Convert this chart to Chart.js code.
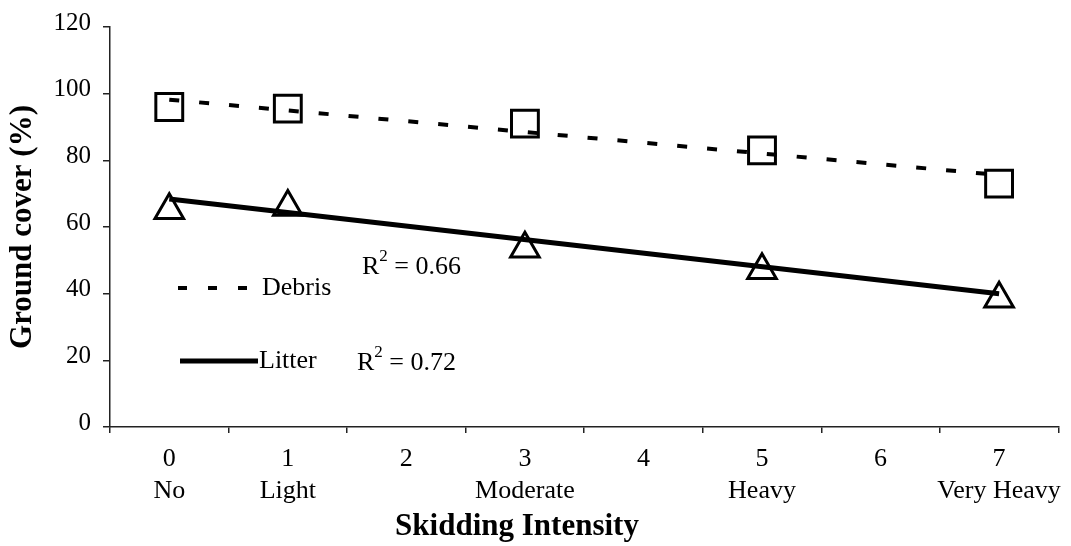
<!DOCTYPE html>
<html>
<head>
<meta charset="utf-8">
<title>Ground cover vs skidding intensity</title>
<script src="https://cdn.jsdelivr.net/npm/chart.js@4/dist/chart.umd.min.js"></script>
<style>
  html, body { margin: 0; padding: 0; background: #fff; }
  canvas { display: block; }
</style>
</head>
<body>
<canvas id="cobertura" width="1071" height="546"></canvas>
<script>
// Níveis de intensidade de arraste (eixo x)
const intensidades = ['0', '1', '2', '3', '4', '5', '6', '7'];
const nomesIntensidade = ['No', 'Light', '', 'Moderate', '', 'Heavy', '', 'Very Heavy'];

// Níveis amostrados e cobertura medida (%)
const niveisAmostrados = ['0', '1', '3', '5', '7'];
const debris = [96, 95.5, 91, 83, 73];
const litter = [65, 66, 53.5, 47, 38.5];

// Linhas de tendência (extremos em x = 0 e x = 7)
const extremosTendencia = ['0', '7'];
const tendenciaDebris = [98.2, 75.6];
const tendenciaLitter = [68.4, 40];

// Eixo y
const yMin = 0;
const yMax = 120;
const yPasso = 20;

const fonteSerif = "'Liberation Serif', 'Times New Roman', serif";

const pontos = (xs, ys) => xs.map((x, i) => ({ x: x, y: ys[i] }));

// Legenda, valores de R² e título do eixo x
const anotacoes = {
    id: 'anotacoes',
    afterDraw(chart) {
        const ctx = chart.ctx;
        ctx.save();
        ctx.fillStyle = '#000';
        ctx.strokeStyle = '#000';
        ctx.textBaseline = 'middle';
        ctx.font = '26px ' + fonteSerif;

        // Debris (tracejado)
        ctx.lineWidth = 4;
        ctx.setLineDash([9, 21]);
        ctx.beginPath();
        ctx.moveTo(178, 288);
        ctx.lineTo(250, 288);
        ctx.stroke();
        ctx.setLineDash([]);
        ctx.fillText('Debris', 262, 288);

        // Litter (contínuo)
        ctx.lineWidth = 5;
        ctx.beginPath();
        ctx.moveTo(180, 361);
        ctx.lineTo(258, 361);
        ctx.stroke();
        ctx.fillText('Litter', 259, 361);

        // R²
        const r2 = (x, y, valor) => {
            ctx.font = '26px ' + fonteSerif;
            ctx.fillText('R', x, y);
            const w = ctx.measureText('R').width;
            ctx.font = '17px ' + fonteSerif;
            ctx.fillText('2', x + w, y - 10);
            const w2 = ctx.measureText('2').width;
            ctx.font = '26px ' + fonteSerif;
            ctx.fillText(' = ' + valor, x + w + w2, y);
        };
        r2(362, 267, '0.66');
        r2(357, 363, '0.72');

        // Título do eixo x
        ctx.font = 'bold 31px ' + fonteSerif;
        ctx.textAlign = 'center';
        ctx.fillText('Skidding Intensity', 517, 527);
        ctx.restore();
    }
};

new Chart(document.getElementById('cobertura'), {
    type: 'line',
    data: {
        labels: intensidades,
        datasets: [
            {
                label: 'Debris',
                data: pontos(niveisAmostrados, debris),
                showLine: false,
                pointStyle: 'rect',
                pointRadius: 19,
                pointBorderWidth: 3,
                pointBorderColor: '#000',
                pointBackgroundColor: 'rgba(0,0,0,0)'
            },
            {
                label: 'Litter',
                data: pontos(niveisAmostrados, litter),
                showLine: false,
                pointStyle: 'triangle',
                pointRadius: 16.5,
                pointBorderWidth: 3,
                pointBorderColor: '#000',
                pointBackgroundColor: 'rgba(0,0,0,0)'
            },
            {
                label: 'Debris tendência',
                data: pontos(extremosTendencia, tendenciaDebris),
                borderColor: '#000',
                borderWidth: 4,
                borderDash: [10, 20],
                pointRadius: 0,
                fill: false
            },
            {
                label: 'Litter tendência',
                data: pontos(extremosTendencia, tendenciaLitter),
                borderColor: '#000',
                borderWidth: 5,
                pointRadius: 0,
                fill: false
            }
        ]
    },
    options: {
        responsive: false,
        animation: false,
        layout: {
            autoPadding: false,
            padding: { top: 24, right: 3, left: 0, bottom: 0 }
        },
        plugins: {
            legend: { display: false },
            tooltip: { enabled: false }
        },
        scales: {
            x: {
                type: 'category',
                offset: true,
                afterFit: (s) => { s.height = 119; },
                border: { color: '#222', width: 1.5 },
                grid: {
                    offset: true,
                    drawOnChartArea: false,
                    drawTicks: true,
                    tickLength: 6,
                    color: '#222',
                    lineWidth: 1.5
                },
                ticks: {
                    color: '#000',
                    padding: 10,
                    maxRotation: 0,
                    autoSkip: false,
                    font: { family: fonteSerif, size: 26, lineHeight: 1.23 },
                    callback: (v, i) => nomesIntensidade[i]
                        ? [intensidades[i], nomesIntensidade[i]]
                        : [intensidades[i]]
                }
            },
            y: {
                min: yMin,
                max: yMax,
                afterFit: (s) => { s.width = 110; },
                border: { color: '#222', width: 1.5 },
                grid: {
                    drawOnChartArea: false,
                    drawTicks: true,
                    tickLength: 7,
                    color: '#222',
                    lineWidth: 1.5
                },
                ticks: {
                    stepSize: yPasso,
                    color: '#000',
                    padding: 12,
                    labelOffset: -4,
                    font: { family: fonteSerif, size: 25 }
                },
                title: {
                    display: true,
                    text: 'Ground cover (%)',
                    color: '#000',
                    padding: { top: 4, bottom: 0 },
                    font: { family: fonteSerif, size: 31, weight: 'bold' }
                }
            }
        }
    },
    plugins: [anotacoes]
});
</script>
</body>
</html>
